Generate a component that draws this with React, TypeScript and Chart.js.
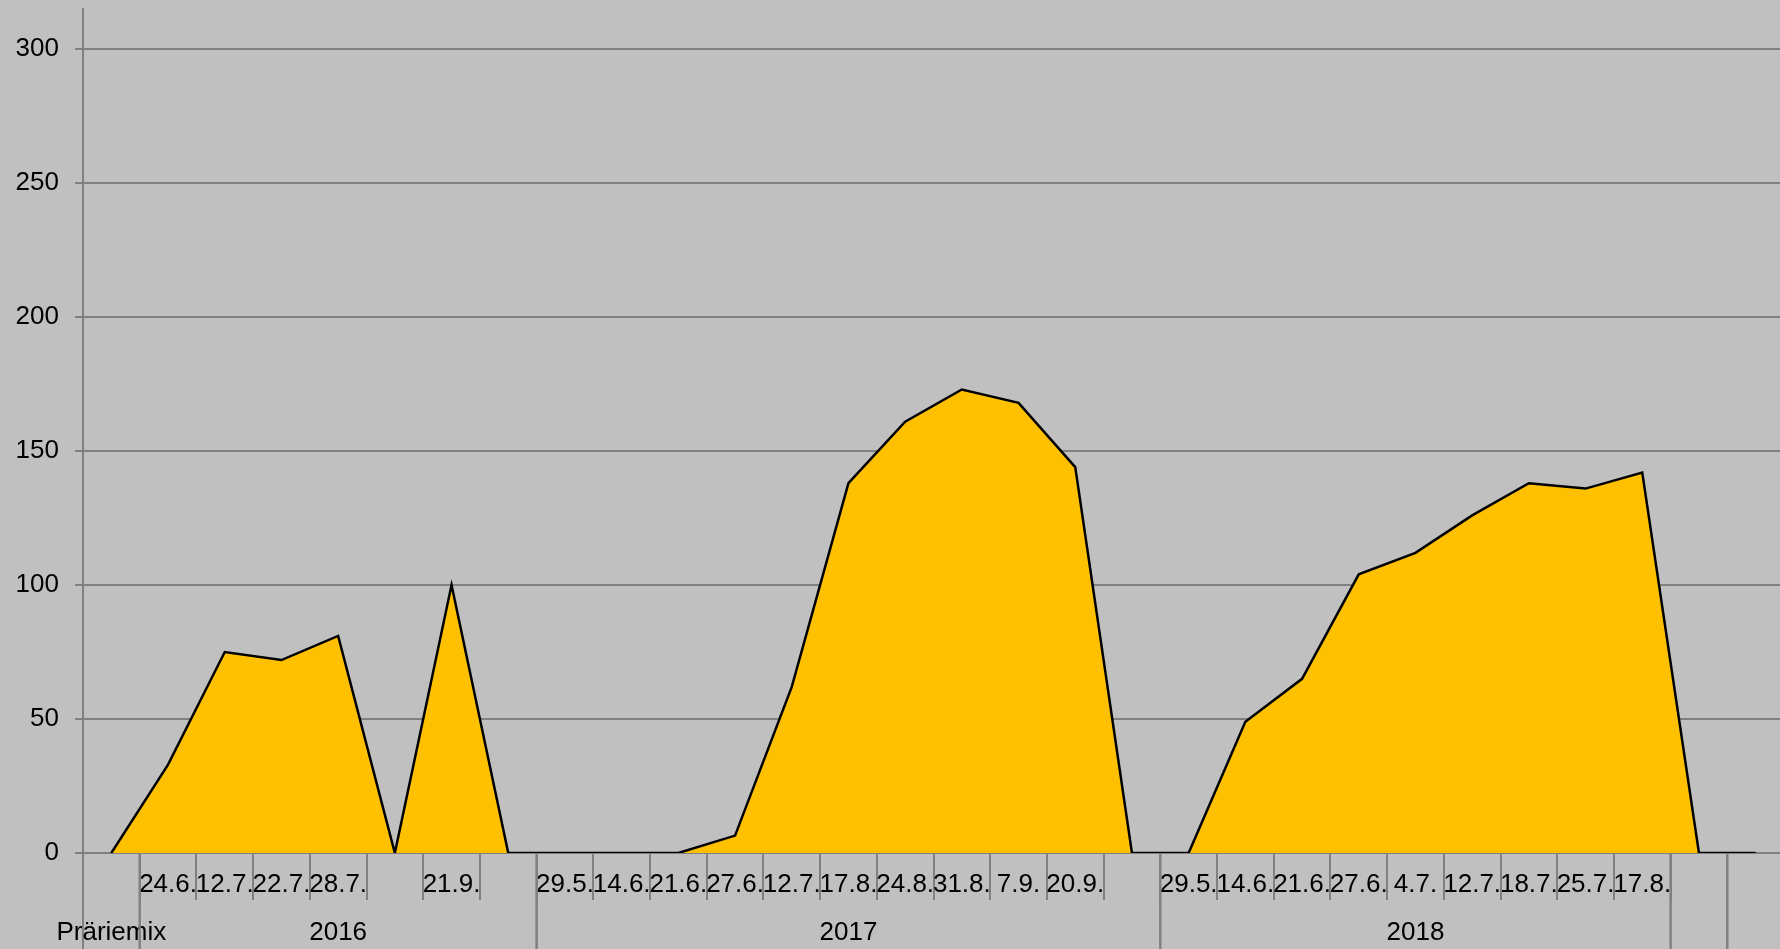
import React, { useEffect, useRef } from "react";
import { Chart, registerables } from "chart.js";

Chart.register(...registerables);

const dateLabels: string[] = [
  "", "24.6.", "12.7.", "22.7.", "28.7.", "", "21.9.", "",
  "29.5.", "14.6.", "21.6.", "27.6.", "12.7.", "17.8.", "24.8.", "31.8.", "7.9.", "20.9.", "",
  "29.5.", "14.6.", "21.6.", "27.6.", "4.7.", "12.7.", "18.7.", "25.7.", "17.8.", "", "",
];

const values: number[] = [
  0, 33, 75, 72, 81, 0, 100, 0,
  0, 0, 0, 6.5, 62, 138, 161, 173, 168, 144, 0,
  0, 49, 65, 104, 112, 126, 138, 136, 142, 0, 0,
];

const groupNames: string[] = ["Präriemix", "2016", "2017", "2018", "", ""];
const groupSizes: number[] = [1, 7, 11, 9, 1, 1];

const yTicks: number[] = [0, 50, 100, 150, 200, 250, 300];

const FONT = "'Liberation Sans', Arial, sans-serif";
const GRID = "#808080";
const FONT_SIZE = 26;

const groupPlugin = {
  id: "groupRow",
  afterDraw(chart: any) {
    const x = chart.scales.x;
    const ctx = chart.ctx;
    const bottom = chart.chartArea.bottom;
    const h = chart.height;
    const half = (x.getPixelForValue(1) - x.getPixelForValue(0)) / 2;
    ctx.save();
    ctx.strokeStyle = GRID;
    ctx.lineWidth = 2;
    ctx.fillStyle = "#000";
    ctx.font = `${FONT_SIZE}px ${FONT}`;
    ctx.textAlign = "center";
    ctx.textBaseline = "middle";
    let start = 0;
    groupSizes.forEach((size, gi) => {
      const end = start + size - 1;
      const left = x.getPixelForValue(start) - half;
      const right = x.getPixelForValue(end) + half;
      ctx.beginPath();
      ctx.moveTo(left, bottom);
      ctx.lineTo(left, h);
      ctx.moveTo(right, bottom);
      ctx.lineTo(right, h);
      ctx.stroke();
      const name = groupNames[gi];
      if (name) ctx.fillText(name, (left + right) / 2, bottom + 80);
      start = end + 1;
    });
    ctx.restore();
  },
};

export default function App() {
  const ref = useRef<HTMLCanvasElement | null>(null);
  useEffect(() => {
    if (!ref.current) return;
    Chart.defaults.font.family = FONT;
    const chart = new Chart(ref.current, {
      type: "line",
      data: {
        labels: dateLabels,
        datasets: [
          {
            data: values,
            fill: "origin",
            backgroundColor: "#FFC000",
            borderColor: "#000000",
            borderWidth: 2.5,
            pointRadius: 0,
            pointHoverRadius: 0,
            tension: 0,
          },
        ],
      },
      options: {
        animation: false,
        responsive: true,
        maintainAspectRatio: false,
        layout: { padding: { top: 9, left: 0, right: 0, bottom: 0 } },
        plugins: { legend: { display: false }, tooltip: { enabled: false } },
        events: [],
        scales: {
          x: {
            type: "category",
            offset: true,
            z: 1,
            grid: {
              offset: true,
              drawOnChartArea: false,
              drawTicks: true,
              tickLength: 47,
              color: GRID,
              lineWidth: 2,
            },
            border: { display: true, color: GRID, width: 2 },
            ticks: {
              autoSkip: false,
              maxRotation: 0,
              minRotation: 0,
              padding: -31,
              color: "#000",
              font: { size: FONT_SIZE, family: FONT },
            },
            afterFit: (s: any) => {
              s.height = 96;
              s.paddingLeft = 0;
              s.paddingRight = 0;
            },
          },
          y: {
            min: 0,
            max: 315,
            afterBuildTicks: (s: any) => {
              s.ticks = yTicks.map((v) => ({ value: v }));
            },
            grid: {
              color: GRID,
              lineWidth: 2,
              drawTicks: true,
              tickLength: 8,
            },
            border: { display: true, color: GRID, width: 2 },
            ticks: {
              padding: 16,
              color: "#000",
              font: { size: FONT_SIZE, family: FONT },
            },
            afterFit: (s: any) => {
              s.width = 83;
              s.paddingTop = 0;
              s.paddingBottom = 0;
            },
          },
        },
      },
      plugins: [groupPlugin],
    });
    return () => chart.destroy();
  }, []);

  return (
    <div
      style={{
        position: "fixed",
        left: 0,
        top: 0,
        width: 1780,
        height: 949,
        overflow: "hidden",
        background: "#c0c0c0",
      }}
    >
      <div style={{ position: "relative", width: 1784, height: 949 }}>
        <canvas ref={ref} />
      </div>
    </div>
  );
}
